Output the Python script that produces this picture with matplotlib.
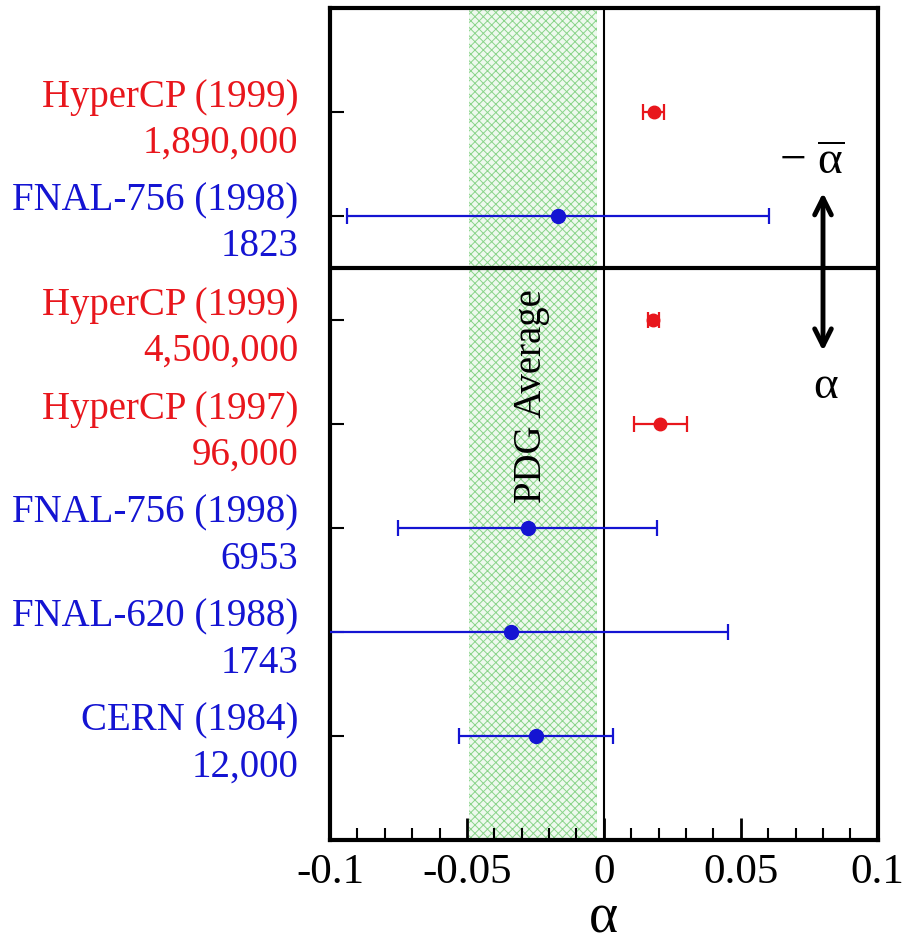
import matplotlib
matplotlib.use('Agg')
import matplotlib.pyplot as plt
from matplotlib.transforms import blended_transform_factory
from matplotlib.ticker import MultipleLocator

plt.rcParams['font.family'] = ['Liberation Serif', 'DejaVu Serif']
plt.rcParams['mathtext.fontset'] = 'custom'
plt.rcParams['mathtext.rm'] = 'Liberation Serif'
plt.rcParams['mathtext.it'] = 'Liberation Serif'
plt.rcParams['hatch.linewidth'] = 0.7

# Measurements, top to bottom
experiments = ['HyperCP (1999)', 'FNAL-756 (1998)', 'HyperCP (1999)', 'HyperCP (1997)',
               'FNAL-756 (1998)', 'FNAL-620 (1988)', 'CERN (1984)']
events = ['1,890,000', '1823', '4,500,000', '96,000', '6953', '1743', '12,000']
alpha_vals = [0.0182, -0.0168, 0.0180, 0.0206, -0.0278, -0.0338, -0.0249]
alpha_errs = [0.0038, 0.0770, 0.0020, 0.0097, 0.0472, 0.0790, 0.0281]
groups = ['HyperCP', 'other', 'HyperCP', 'HyperCP', 'other', 'other', 'other']
row_pos = [7, 6, 5, 4, 3, 2, 1]

# PDG average band
pdg_low, pdg_high = -0.0492, -0.0024

x_ticks = [-0.1, -0.05, 0, 0.05, 0.1]
x_tick_labels = ['-0.1', '-0.05', '0', '0.05', '0.1']

red = '#e8161c'
blue = '#1414d2'
colors = {'HyperCP': red, 'other': blue}

fig = plt.figure(figsize=(9.04, 9.47), dpi=100)
ax = fig.add_axes([0.365, 0.113, 0.606, 0.879])

ax.set_xlim(-0.1, 0.1)
ax.set_ylim(0, 8)

# PDG band
ax.fill_betweenx([0, 8], pdg_low, pdg_high, facecolor='#eef9ee', edgecolor='#8ad48a',
                 hatch='xxxx', linewidth=0, zorder=0)
ax.text((pdg_low + pdg_high) / 2 - 0.0005, 4.27, 'PDG Average', rotation=90,
        ha='center', va='center', fontsize=28, zorder=2)

# zero line and divider
ax.axvline(0, color='black', lw=1.5, zorder=1)
ax.axhline(5.5, color='black', lw=3, zorder=3)

for y, a, e, g in zip(row_pos, alpha_vals, alpha_errs, groups):
    c = colors[g]
    ms = 9 if g == 'HyperCP' else 10
    ax.errorbar(a, y, xerr=e, fmt='o', color=c, ms=ms, lw=1.6, capsize=6,
                capthick=1.6, zorder=4, clip_on=True)

# labels on the left
trans = blended_transform_factory(ax.transAxes, ax.transData)
for y, name, n, g in zip(row_pos, experiments, events, groups):
    c = colors[g]
    ax.text(-0.058, y + 0.14, name, transform=trans, ha='right', va='center',
            fontsize=28, color=c)
    ax.text(-0.058, y - 0.3, n, transform=trans, ha='right', va='center',
            fontsize=28, color=c)

# arrow showing the sign convention
ax.annotate('', xy=(0.080, 6.22), xytext=(0.080, 4.7),
            arrowprops=dict(arrowstyle='<->', lw=3.5, color='black',
                            mutation_scale=30, shrinkA=0, shrinkB=0))
ax.text(0.076, 6.5, r'$-\ \overline{\alpha}$', ha='center', va='center', fontsize=34)
ax.text(0.081, 4.36, 'α', ha='center', va='center', fontsize=34)

# ticks
ax.set_yticks(row_pos)
ax.set_yticklabels([])
ax.set_xticks(x_ticks, labels=x_tick_labels)
ax.xaxis.set_minor_locator(MultipleLocator(0.01))
ax.tick_params(axis='x', which='major', direction='in', length=16, width=2,
               labelsize=31, pad=10)
ax.tick_params(axis='x', which='minor', direction='in', length=9, width=1.5)
ax.tick_params(axis='y', which='major', direction='in', length=10, width=1.5,
               left=True, right=False)
for s in ax.spines.values():
    s.set_linewidth(3)

ax.set_xlabel('α', fontsize=40, va='center')
ax.xaxis.set_label_coords(0.5, -0.094)

fig.savefig('out.png', dpi=100)
